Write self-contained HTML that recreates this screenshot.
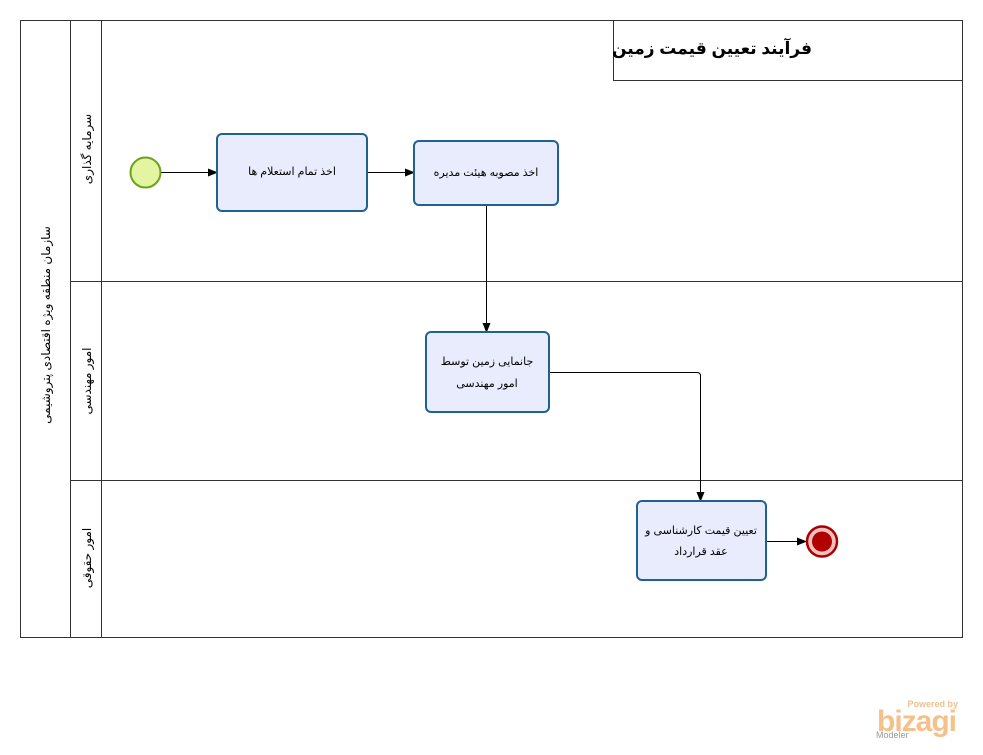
<!DOCTYPE html>
<html><head><meta charset="utf-8"><style>
body{margin:0;background:#fff;width:983px;height:750px;overflow:hidden}
svg text{font-family:"Liberation Sans","DejaVu Sans",sans-serif}
</style></head><body>
<svg width="983" height="750" xmlns="http://www.w3.org/2000/svg">
<defs><marker id="a" markerWidth="10" markerHeight="8" refX="9" refY="4" orient="auto" markerUnits="userSpaceOnUse"><path d="M0,0 L10,4 L0,8 z" fill="#000"/></marker></defs>
<g fill="none" stroke="#333" stroke-width="1">
<rect x="20.5" y="20.5" width="942" height="617"/>
<line x1="70.5" y1="20" x2="70.5" y2="637"/>
<line x1="101.5" y1="20" x2="101.5" y2="637"/>
<line x1="70" y1="281.5" x2="962" y2="281.5"/>
<line x1="70" y1="480.5" x2="962" y2="480.5"/>
</g>
<rect x="613.5" y="20.5" width="349" height="60" fill="#fff" stroke="#333"/>
<text x="812" y="54" font-size="17" font-weight="bold" text-anchor="start" direction="rtl">فرآیند تعیین قیمت زمین</text>
<text transform="translate(50,325) rotate(-90)" font-size="12" text-anchor="middle">سازمان منطقه ویژه اقتصادی پتروشیمی</text>
<text transform="translate(91,149) rotate(-90)" font-size="12" text-anchor="middle">سرمایه گذاری</text>
<text transform="translate(91,381) rotate(-90)" font-size="12" text-anchor="middle">امور مهندسی</text>
<text transform="translate(91,558) rotate(-90)" font-size="12" text-anchor="middle">امور حقوقی</text>
<g stroke="#000" stroke-width="1" fill="none" marker-end="url(#a)">
<line x1="160" y1="172.5" x2="217" y2="172.5"/>
<line x1="367" y1="172.5" x2="414" y2="172.5"/>
<line x1="486.5" y1="205" x2="486.5" y2="332"/>
<path d="M549,372.5 H697 Q700.5,372.5 700.5,376 V501"/>
<line x1="766" y1="541.5" x2="806" y2="541.5"/>
</g>
<circle cx="145.5" cy="172.5" r="15" fill="#e3f5a0" stroke="#6aa219" stroke-width="2"/>
<circle cx="822" cy="541.5" r="15" fill="#f3c0c0" stroke="#a00" stroke-width="2.5"/>
<circle cx="822" cy="541.5" r="10" fill="#b00000"/>
<g fill="#e8ecfc" stroke="#1f6191" stroke-width="2">
<rect x="217" y="134" width="150" height="77" rx="5"/>
<rect x="414" y="141" width="144" height="64" rx="5"/>
<rect x="426" y="332" width="123" height="80" rx="5"/>
<rect x="637" y="501" width="129" height="79" rx="5"/>
</g>
<g font-size="11" text-anchor="middle">
<text x="292" y="175">اخذ تمام استعلام ها</text>
<text x="486" y="176">اخذ مصوبه هیئت مدیره</text>
<text x="487" y="365">جانمایی زمین توسط</text>
<text x="487" y="387">امور مهندسی</text>
<text x="701" y="534">تعیین قیمت کارشناسی و</text>
<text x="701" y="555">عقد قرارداد</text>
</g>
<text x="958" y="707" font-size="9" font-weight="bold" fill="#f0c090" text-anchor="end">Powered by</text>
<text x="877" y="731" font-size="30" fill="#f5c08a" font-weight="bold" letter-spacing="-1">bizagi</text>
<text x="876" y="738" font-size="9" fill="#999">Modeler</text>
</svg>
</body></html>
